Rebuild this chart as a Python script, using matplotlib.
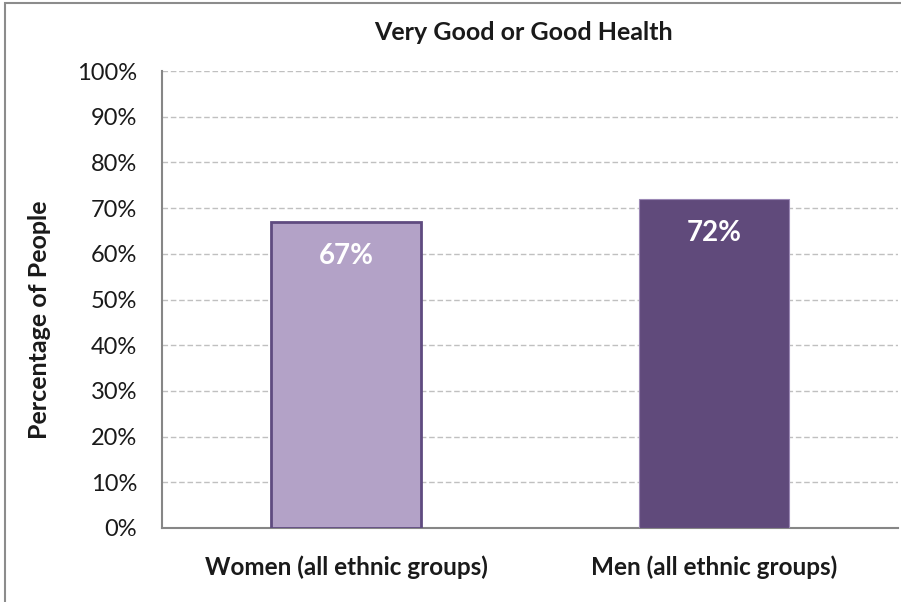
import matplotlib.pyplot as plt
from matplotlib.patches import Rectangle
from matplotlib.ticker import FuncFormatter

categories = ["Women (all ethnic groups)", "Men (all ethnic groups)"]
values = [67, 72]
value_labels = ["67%", "72%"]
yticks = [0, 10, 20, 30, 40, 50, 60, 70, 80, 90, 100]

plt.rcParams['font.family'] = ['Lato', 'DejaVu Sans']

W, H = 901, 602
fig = plt.figure(figsize=(W / 100, H / 100), dpi=100)

# outer chart frame
fig.patches.append(Rectangle((5 / W, -0.05), 1.2, (H - 3) / H + 0.05,
                             transform=fig.transFigure, fill=False,
                             edgecolor='#8c8c8c', linewidth=1.5))

ax = fig.add_axes([162 / W, (H - 528) / H, (898 - 162) / W, (528 - 71) / H])

x = [0.5, 1.5]
fills = ['#b3a2c7', '#604a7b']
edges = ['#5f4b80', '#9b88b5']
lws = [2.0, 0.8]
for xi, v, fc, ec, lw, lab in zip(x, values, fills, edges, lws, value_labels):
    ax.bar(xi, v, width=0.405, color=fc, edgecolor=ec, linewidth=lw, zorder=3)
    ax.text(xi, v - 7.4, lab, ha='center', va='center', color='white',
            fontsize=20, fontweight='bold', zorder=4)

ax.set_xlim(0, 2)
ax.set_ylim(0, 100)
ax.set_yticks(yticks)
ax.yaxis.set_major_formatter(FuncFormatter(lambda v, p: f"{int(v)}%"))
ax.tick_params(axis='y', length=0, pad=18, labelsize=17, labelcolor='#1a1a1a')
ax.set_xticks([])
ax.yaxis.grid(True, linestyle=(0, (4, 2)), color='#c0c0c0', linewidth=1.0, zorder=0)
ax.set_axisbelow(True)

for s in ['top', 'right']:
    ax.spines[s].set_visible(False)
ax.spines['left'].set_color('#868686')
ax.spines['bottom'].set_color('#868686')
ax.spines['left'].set_linewidth(1.5)
ax.spines['bottom'].set_linewidth(1.5)

for xi, cat in zip(x, categories):
    ax.text(xi, -0.085, cat, transform=ax.get_xaxis_transform(), ha='center',
            va='center', fontsize=17.5, fontweight='bold', color='#1a1a1a')

fig.text(523 / W, 1 - 32 / H, "Very Good or Good Health", ha='center', va='center',
         fontsize=18, fontweight='bold', color='#1a1a1a')
fig.text(40 / W, 1 - 320 / H, "Percentage of People", ha='center', va='center',
         rotation=90, fontsize=18, fontweight='bold', color='#1a1a1a')

fig.savefig('out.png', dpi=100)
